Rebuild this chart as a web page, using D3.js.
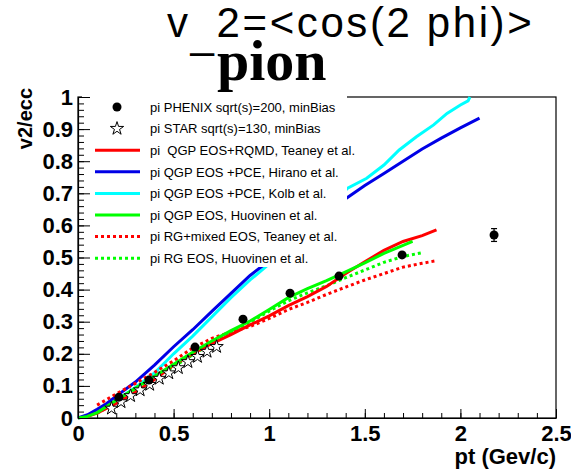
<!DOCTYPE html>
<html><head><meta charset="utf-8">
<script src="https://cdn.jsdelivr.net/npm/d3@7"></script>
<style>body{margin:0;background:#fff}svg{display:block}</style>
</head><body>
<svg id="c" width="571" height="471"></svg>
<script>
// ---- data ----
const phenixPt = [0.214, 0.371, 0.612, 0.863, 1.109, 1.365, 1.695, 2.176];
const phenixV2 = [0.065, 0.118, 0.221, 0.308, 0.389, 0.442, 0.508, 0.570];
const phenixErr = [0, 0, 0, 0, 0, 0, 0, 0.02];
const starPt = [0.175, 0.225, 0.275, 0.325, 0.375, 0.425, 0.475, 0.525, 0.575, 0.625, 0.675, 0.725];
const starV2 = [0.030, 0.050, 0.069, 0.087, 0.104, 0.123, 0.140, 0.156, 0.175, 0.191, 0.207, 0.222];

const teaneyQgpPt = [0.05,0.1,0.2,0.3,0.4,0.5,0.6,0.7,0.8,0.9,1.0,1.1,1.2,1.3,1.4,1.5,1.6,1.7,1.8,1.875];
const teaneyQgpV2 = [0.005,0.015,0.045,0.08,0.12,0.165,0.2,0.232,0.26,0.29,0.318,0.35,0.378,0.41,0.45,0.487,0.522,0.55,0.568,0.586];
const hiranoPt = [0,0.05,0.1,0.15,0.2,0.3,0.4,0.5,0.6,0.7,0.8,0.9,1.0,1.2,1.4,1.5,1.6,1.7,1.8,1.9,2.0,2.1];
const hiranoV2 = [0,0.01,0.027,0.045,0.068,0.112,0.165,0.222,0.275,0.332,0.388,0.444,0.49,0.585,0.683,0.724,0.762,0.8,0.838,0.872,0.904,0.934];
const kolbPt = [0.15,0.2,0.3,0.4,0.5,0.6,0.7,0.8,0.9,1.0,1.2,1.41,1.51,1.6,1.68,1.77,1.86,1.93,2.0,2.04,2.05];
const kolbV2 = [0.035,0.055,0.095,0.14,0.2,0.255,0.315,0.375,0.43,0.48,0.59,0.716,0.747,0.788,0.835,0.876,0.913,0.949,0.975,0.988,1.0];
const huovQgpPt = [0,0.05,0.1,0.2,0.3,0.4,0.5,0.6,0.7,0.8,0.9,1.0,1.1,1.2,1.3,1.4,1.5,1.6,1.7,1.75];
const huovQgpV2 = [0,0.005,0.017,0.055,0.093,0.13,0.167,0.205,0.24,0.272,0.302,0.338,0.375,0.403,0.428,0.455,0.483,0.513,0.538,0.55];
const teaneyRgPt = [0.1,0.2,0.3,0.4,0.5,0.6,0.7,0.8,0.9,1.0,1.1,1.2,1.3,1.4,1.5,1.6,1.7,1.8,1.875];
const teaneyRgV2 = [0.04,0.075,0.108,0.142,0.178,0.218,0.248,0.268,0.285,0.31,0.338,0.36,0.385,0.408,0.43,0.45,0.47,0.482,0.49];
const huovRgPt = [0.1,0.2,0.3,0.4,0.5,0.6,0.7,0.8,0.9,1.0,1.1,1.2,1.3,1.4,1.5,1.6,1.7,1.8];
const huovRgV2 = [0.015,0.05,0.088,0.125,0.16,0.197,0.233,0.268,0.298,0.333,0.365,0.39,0.412,0.437,0.461,0.485,0.503,0.515];

const xTickLabels = ["0", "0.5", "1", "1.5", "2", "2.5"];
const yTickLabels = ["0", "0.1", "0.2", "0.3", "0.4", "0.5", "0.6", "0.7", "0.8", "0.9", "1"];

const legendLabels = [
  "pi PHENIX sqrt(s)=200, minBias",
  "pi STAR sqrt(s)=130, minBias",
  "pi  QGP EOS+RQMD, Teaney et al.",
  "pi QGP EOS +PCE, Hirano et al.",
  "pi QGP EOS +PCE, Kolb et al.",
  "pi QGP EOS, Huovinen et al.",
  "pi RG+mixed EOS, Teaney et al.",
  "pi RG EOS, Huovinen et al."
];

// ---- drawing ----
const svg = d3.select("#c");
const x = d3.scaleLinear().domain([0, 2.5]).range([78, 556]);
const y = d3.scaleLinear().domain([0, 1]).range([418, 97]);
const FONT = "'Liberation Sans', Arial, Helvetica, sans-serif";

// frame
svg.append("rect").attr("x", x(0)).attr("y", y(1)).attr("width", x(2.5) - x(0)).attr("height", y(0) - y(1))
  .attr("fill", "none").attr("stroke", "#000").attr("stroke-width", 1.2);

// x axis
const xAxis = d3.axisBottom(x).tickValues(d3.range(0, 2.5001, 0.5)).tickSize(-9).tickSizeOuter(0)
  .tickFormat((d, i) => xTickLabels[i]);
const gx = svg.append("g").attr("transform", `translate(0,${y(0)})`).call(xAxis);
gx.select(".domain").attr("stroke-width", 1.2);
gx.selectAll("text").attr("font-family", FONT).attr("font-weight", "bold").attr("font-size", 22).attr("dy", "0").attr("y", 23);
const xMinor = d3.axisBottom(x).tickValues(d3.range(0, 2.5001, 0.1)).tickSize(-5).tickFormat("");
const gxm = svg.append("g").attr("transform", `translate(0,${y(0)})`).call(xMinor);
gxm.select(".domain").remove();

// curves
const line = d3.line().x(d => x(d[0])).y(d => y(d[1]));
const curves = [
  {pt: teaneyQgpPt, v: teaneyQgpV2, color: "#ff0000", dash: null},
  {pt: hiranoPt, v: hiranoV2, color: "#0000e6", dash: null},
  {pt: kolbPt, v: kolbV2, color: "#00ffff", dash: null},
  {pt: huovQgpPt, v: huovQgpV2, color: "#00ff00", dash: null},
  {pt: teaneyRgPt, v: teaneyRgV2, color: "#ff0000", dash: "3,3"},
  {pt: huovRgPt, v: huovRgV2, color: "#00ff00", dash: "3,3"}
];
const drawOrder = [2, 1, 4, 5, 0, 3];
drawOrder.forEach(i => {
  const c = curves[i];
  svg.append("path").datum(c.pt.map((p, j) => [p, c.v[j]])).attr("d", line)
    .attr("fill", "none").attr("stroke", c.color).attr("stroke-width", 3)
    .attr("stroke-dasharray", c.dash);
});

// markers
const starSym = d3.symbol().type(d3.symbolStar).size(55);
svg.append("g").selectAll("path").data(starPt.map((p, i) => [p, starV2[i]])).join("path")
  .attr("d", starSym).attr("transform", d => `translate(${x(d[0])},${y(d[1])})`)
  .attr("fill", "#fff").attr("stroke", "#000").attr("stroke-width", 1);
const ph = svg.append("g");
phenixPt.forEach((p, i) => {
  if (phenixErr[i] > 0) {
    ph.append("line").attr("x1", x(p)).attr("x2", x(p)).attr("y1", y(phenixV2[i] - phenixErr[i])).attr("y2", y(phenixV2[i] + phenixErr[i])).attr("stroke", "#000").attr("stroke-width", 1.2);
    [-1, 1].forEach(s => ph.append("line").attr("x1", x(p) - 3).attr("x2", x(p) + 3)
      .attr("y1", y(phenixV2[i] + s * phenixErr[i])).attr("y2", y(phenixV2[i] + s * phenixErr[i])).attr("stroke", "#000").attr("stroke-width", 1.2));
  }
  ph.append("circle").attr("cx", x(p)).attr("cy", y(phenixV2[i])).attr("r", 4.5).attr("fill", "#000");
});

// legend box (white, covers part of the frame and curves)
svg.append("rect").attr("x", 82).attr("y", 94).attr("width", 347 - 82).attr("height", 267 - 94).attr("fill", "#fff");

// y axis (drawn after legend so ticks stay visible at the left edge)
const yAxis = d3.axisLeft(y).tickValues(d3.range(0, 1.0001, 0.1)).tickSize(-12).tickSizeOuter(0)
  .tickFormat((d, i) => yTickLabels[i]);
const gy = svg.append("g").attr("transform", `translate(${x(0)},0)`).call(yAxis);
gy.select(".domain").attr("stroke-width", 1.2);
gy.selectAll("text").attr("font-family", FONT).attr("font-weight", "bold").attr("font-size", 22).attr("x", -5);
const yMinor = d3.axisLeft(y).tickValues(d3.range(0, 1.0001, 0.02)).tickSize(-6).tickFormat("");
const gym = svg.append("g").attr("transform", `translate(${x(0)},0)`).call(yMinor);
gym.select(".domain").remove();
svg.selectAll(".tick line").attr("stroke-width", 1);

// legend entries
const lg = svg.append("g");
const ly0 = 107, ldy = 21.6;
legendLabels.forEach((t, i) => {
  const yy = ly0 + i * ldy;
  if (i === 0) lg.append("circle").attr("cx", 117).attr("cy", yy).attr("r", 4.5).attr("fill", "#000");
  else if (i === 1) lg.append("path").attr("d", starSym).attr("transform", `translate(117,${yy})`).attr("fill", "#fff").attr("stroke", "#000");
  else {
    const c = curves[i - 2];
    lg.append("line").attr("x1", 95).attr("x2", 140).attr("y1", yy).attr("y2", yy)
      .attr("stroke", c.color).attr("stroke-width", 3).attr("stroke-dasharray", c.dash);
  }
  lg.append("text").attr("x", 150).attr("y", yy + 4.7).text(t)
    .attr("font-family", FONT).attr("font-size", 13).attr("fill", "#000").style("white-space", "pre");
});

// axis titles
svg.append("text").attr("x", 556).attr("y", 464).attr("text-anchor", "end")
  .attr("font-family", FONT).attr("font-weight", "bold").attr("font-size", 22).text("pt (Gev/c)");
svg.append("text").attr("transform", "translate(32,88) rotate(-90)").attr("text-anchor", "end")
  .attr("font-family", FONT).attr("font-weight", "bold").attr("font-size", 20).text("v2/ecc");

// titles
const t1 = svg.append("text").attr("x", 167).attr("y", 37).attr("font-family", FONT).attr("font-size", 42)
  .attr("letter-spacing", 2.6);
t1.append("tspan").text("v");
t1.append("tspan").attr("dy", 11).text("_");
t1.append("tspan").attr("dy", -11).text("2=<cos(2 phi)>");
svg.append("text").attr("x", 217).attr("y", 80).attr("font-family", "'Liberation Serif', 'Times New Roman', serif")
  .attr("font-weight", "bold").attr("font-size", 58).text("pion");
</script>
</body></html>
